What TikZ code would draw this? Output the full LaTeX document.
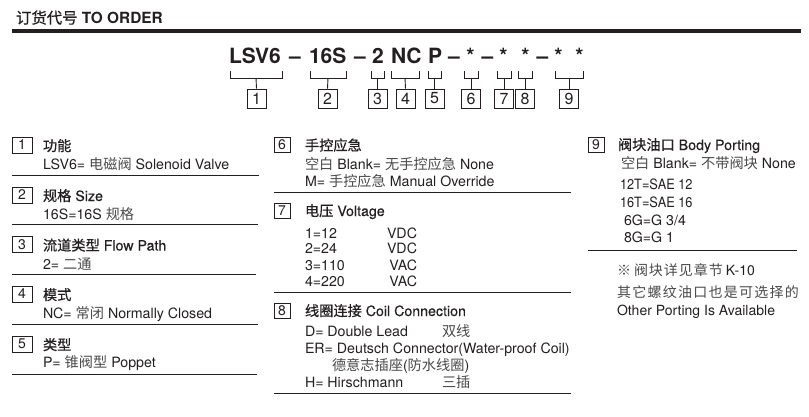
\documentclass[tikz,border=0pt]{standalone}
\usepackage{fontspec}
\setmainfont{TeX Gyre Heros}
\newfontfamily\cjk{Noto Sans CJK SC}
\newfontfamily\cjkhd{Noto Sans CJK SC}[FakeBold=0.5]
\newfontfamily\hdsans{TeX Gyre Heros}[FakeBold=0.3]
\definecolor{ink}{HTML}{231F20}
\definecolor{cjkgray}{HTML}{4A4A4C}
\newcommand\zh[1]{{\cjkhd #1}}
\newcommand\zhg[1]{{\cjk\color{cjkgray}#1}}
\newcommand\hd[1]{{\hdsans #1}}
\tikzset{
  txt/.style={anchor=base west, inner sep=0pt, outer sep=0pt, text=ink, font=\fontsize{14.2}{16}\selectfont},
  txte/.style={txt, anchor=base east},
  code/.style={anchor=base west, inner sep=0pt, outer sep=0pt, text=ink, font=\fontsize{21}{24}\selectfont\bfseries},
  codec/.style={code, anchor=base},
  numbox/.style={draw=ink, line width=0.9pt, minimum width=19pt, minimum height=19pt, inner sep=0pt, text=ink, font=\fontsize{16}{16}\selectfont},
  secbox/.style={draw=ink, line width=0.9pt, minimum width=20pt, minimum height=16pt, inner sep=0pt, text=ink, font=\fontsize{14}{14}\selectfont},
  secboxn/.style={secbox, minimum width=16pt, minimum height=15pt},
  rule/.style={draw=ink, line width=0.9pt},
  brk/.style={draw=ink, line width=0.9pt},
}
\begin{document}
\begin{tikzpicture}[x=1pt, y=-1pt]
\useasboundingbox[fill=white] (0,0) rectangle (809,416);

% title
\node[txt, font=\fontsize{15.4}{18}\selectfont] (title) at (16,23.5) {\zh{订货代号} \textbf{TO ORDER}};
\draw[draw=ink, line width=3.6pt] (12,31) -- (801,31);

% code line
\node[code] (c1) at (229,63) {LSV6};
\node[codec] (d1) at (295,63) {–};
\node[code] (c2) at (309,63) {16S};
\node[codec] (d2) at (360,63) {–};
\node[code] (c3) at (372,63) {2};
\node[code] (c4) at (391,63) {NC};
\node[code] (c5) at (428,63) {P};
\node[codec] (d3) at (454,63) {–};
\node[codec] (a1) at (470.5,63) {*};
\node[codec] (d4) at (487.5,63) {–};
\node[codec] (a2) at (503.5,63) {*};
\node[codec] (a3) at (525.5,63) {*};
\node[codec] (d5) at (542.5,63) {–};
\node[codec] (a4) at (558.5,63) {*};
\node[codec] (a5) at (579.5,63) {*};

% number boxes
\node[numbox] (b1) at (256.5,98.5) {1};
\node[numbox] (b2) at (327.5,98.5) {2};
\node[numbox] (b3) at (377.5,98.5) {3};
\node[numbox] (b4) at (405.5,98.5) {4};
\node[numbox] (b5) at (434.5,98.5) {5};
\node[numbox] (b6) at (471,98.5) {6};
\node[numbox] (b7) at (504,98.5) {7};
\node[numbox] (b8) at (525,98.5) {8};
\node[numbox] (b9) at (569,98.5) {9};

% brackets
\foreach \xa/\xb/\n in {230/282/1, 310/346/2, 371/384/3, 391/419/4, 428/441/5, 464/478/6, 497/511/7, 518/532/8, 555/583/9}{
  \draw[brk] (\xa,71) -- (\xa,78) -- (\xb,78) -- (\xb,71);
  \coordinate (k\n) at ({(\xa+\xb)/2},78);
  \draw[brk] (k\n) -- (b\n.north);
}

% ---------- column 1 ----------
\node[secbox] (s1) at (22,145) {1};
\node[txt] (h1) at (43,151) {\zh{功能}};
\node[txt] (t1) at (43,169) {LSV6= \zhg{电磁阀} Solenoid Valve};
\draw[rule] (12,175) -- (259,175);

\node[secbox] (s2) at (22,195) {2};
\node[txt] (h2) at (43,201) {\zh{规格} \hd{Size}};
\node[txt] (t2) at (43,219) {16S=16S \zhg{规格}};
\draw[rule] (12,224.5) -- (258,224.5);

\node[secbox] (s3) at (22,244.5) {3};
\node[txt] (h3) at (43,250.5) {\zh{流道类型} \hd{Flow Path}};
\node[txt] (t3) at (43,269) {2= \zhg{二通}};
\draw[rule] (12,274.5) -- (256,274.5);

\node[secbox] (s4) at (22,294) {4};
\node[txt] (h4) at (43,300) {\zh{模式}};
\node[txt] (t4) at (43,318) {NC= \zhg{常闭} Normally Closed};
\draw[rule] (12,324) -- (258,324);

\node[secbox] (s5) at (22,344) {5};
\node[txt] (h5) at (43,350) {\zh{类型}};
\node[txt] (t5) at (43,367.5) {P= \zhg{锥阀型} Poppet};
\draw[rule] (12,374) -- (257,374);

% ---------- column 2 ----------
\node[secboxn] (s6) at (282,144.5) {6};
\node[txt] (h6) at (305,150.5) {\zh{手控应急}};
\node[txt] (t6a) at (305,169) {\zhg{空白} Blank= \zhg{无手控应急} None};
\node[txt] (t6b) at (305,186) {M= \zhg{手控应急} Manual Override};
\draw[rule] (274,192) -- (571,192);

\node[secboxn] (s7) at (282,211) {7};
\node[txt] (h7) at (305,216) {\zh{电压} \hd{Voltage}};
\node[txt] (v1) at (305,238) {1=12};
\node[txte] (u1) at (417,238) {VDC};
\node[txt] (v2) at (305,253.5) {2=24};
\node[txte] (u2) at (417,253.5) {VDC};
\node[txt] (v3) at (305,270) {3=110};
\node[txte] (u3) at (417,270) {VAC};
\node[txt] (v4) at (305,286) {4=220};
\node[txte] (u4) at (417,286) {VAC};
\draw[rule] (274,292.5) -- (571,292.5);

\node[secboxn] (s8) at (282,311) {8};
\node[txt] (h8) at (305,316) {\zh{线圈连接} \hd{Coil Connection}};
\node[txt] (e1) at (305,336) {D= Double Lead};
\node[txt] (e1z) at (442,336) {\zhg{双线}};
\node[txt] (e2) at (305,353.5) {ER= Deutsch Connector(Water-proof Coil)};
\node[txt] (e3) at (332,370.5) {\zhg{德意志插座}(\zhg{防水线圈})};
\node[txt] (e4) at (305,387.5) {H= Hirschmann};
\node[txt] (e4z) at (442,387.5) {\zhg{三插}};
\draw[rule] (274,393) -- (571,393);

% ---------- column 3 ----------
\node[secboxn] (s9) at (596,144.5) {9};
\node[txt] (h9) at (618,150) {\zh{阀块油口} \hd{Body Porting}};
\node[txt] (p0) at (621,168) {\zhg{空白} Blank= \zhg{不带阀块} None};
\node[txt] (p1) at (620,189.5) {\scalebox{0.9}[1]{12T=SAE 12}};
\node[txt] (p2) at (620,207) {\scalebox{0.9}[1]{16T=SAE 16}};
\node[txt] (p3) at (624,225) {6G=G 3/4};
\node[txt] (p4) at (624,242) {8G=G 1};
\draw[rule] (588,250) -- (797,250);

\node[txt, font=\fontsize{14}{16}\selectfont] (n1) at (617,275) {{\cjk\color{cjkgray}※\hspace{3pt}\addfontfeature{LetterSpace=7}阀块详见章节}\hspace{3pt}K-10};
\node[txt, font=\fontsize{14}{16}\selectfont] (n2) at (617,297) {{\cjk\color{cjkgray}\addfontfeature{LetterSpace=9}其它螺纹油口也是可选择的}};
\node[txt, font=\fontsize{14}{16}\selectfont] (n3) at (617,315.5) {Other Porting Is Available};
\end{tikzpicture}
\end{document}
